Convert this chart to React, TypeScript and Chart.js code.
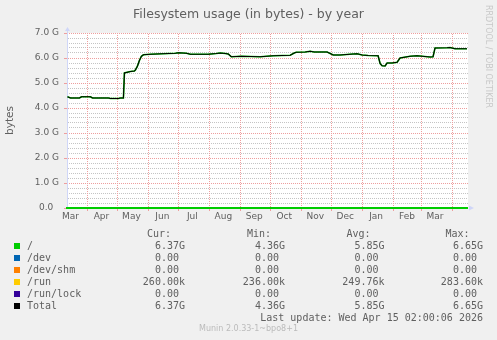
import React, { useEffect, useRef } from "react";
import { Chart, registerables } from "chart.js";

Chart.register(...registerables);

// ---------------- data ----------------
const chartTitle = "Filesystem usage (in bytes) - by year";
const yAxisTitle = "bytes";
const sideText = "RRDTOOL / TOBI OETIKER";
const footerText = "Munin 2.0.33-1~bpo8+1";
const lastUpdateText = "Last update: Wed Apr 15 02:00:06 2026";

// x axis: days since 1 Mar 2025
const monthStartDays = [0, 31, 61, 92, 122, 153, 184, 214, 245, 275, 306, 337, 365, 396];
const monthLabels = ["Mar", "Apr", "May", "Jun", "Jul", "Aug", "Sep", "Oct", "Nov", "Dec", "Jan", "Feb", "Mar"];
const xStartDay = 10.5;
const xEndDay = 412;

// y axis (in G bytes)
const yMajorTicks = [0, 1, 2, 3, 4, 5, 6, 7];
const yTickLabels = ["0.0  ", "1.0 G", "2.0 G", "3.0 G", "4.0 G", "5.0 G", "6.0 G", "7.0 G"];
const yMinorPerMajor = 5;

// "/" filesystem usage (G bytes)
const rootDays = [
  11, 14, 23, 25, 34, 36, 52, 54, 62, 64,
  67, 68, 74, 78, 79, 81, 83, 85, 87, 94,
  106, 119, 122, 130, 134, 152, 160, 164, 169, 172,
  175, 185, 204, 217, 226, 234, 238, 240, 249, 254,
  258, 271, 277, 284, 297, 301, 306, 312, 322, 324,
  326, 329, 331, 336, 341, 344, 354, 361, 374, 377,
  379, 391, 394, 399, 411,
];
const rootValues = [
  4.45, 4.40, 4.40, 4.45, 4.45, 4.40, 4.40, 4.38, 4.38, 4.40,
  4.40, 5.40, 5.46, 5.48, 5.52, 5.67, 5.90, 6.07, 6.13, 6.15,
  6.17, 6.19, 6.21, 6.19, 6.15, 6.15, 6.18, 6.20, 6.18, 6.16,
  6.05, 6.07, 6.05, 6.09, 6.10, 6.11, 6.20, 6.23, 6.24, 6.27,
  6.24, 6.24, 6.12, 6.12, 6.16, 6.17, 6.12, 6.10, 6.09, 5.78,
  5.69, 5.68, 5.80, 5.80, 5.83, 6.00, 6.07, 6.09, 6.04, 6.05,
  6.40, 6.41, 6.42, 6.37, 6.37,
];
const flatDays = [11, 411];
const devValues = [0, 0];
const devShmValues = [0, 0];
const runValues = [0.00026, 0.00026];
const runLockValues = [0, 0];

// legend table
const legendNames = ["/", "/dev", "/dev/shm", "/run", "/run/lock", "Total"];
const legendColors = ["#00CC00", "#0066B3", "#FF8000", "#FFCC00", "#330099", "#000000"];
const legendHeaders = ["Cur:", "Min:", "Avg:", "Max:"];
const curValues = ["6.37G", "0.00 ", "0.00 ", "260.00k", "0.00 ", "6.37G"];
const minValues = ["4.36G", "0.00 ", "0.00 ", "236.00k", "0.00 ", "4.36G"];
const avgValues = ["5.85G", "0.00 ", "0.00 ", "249.76k", "0.00 ", "5.85G"];
const maxValues = ["6.65G", "0.00 ", "0.00 ", "283.60k", "0.00 ", "6.65G"];

// ---------------- styling ----------------
const W = 497;
const H = 340;
const FONT = "#606060";
const MGRID = "#EE9E9E";
const GRID = "#C4C4C4";
const AXIS = "#CFD6F8";
const SANS = '"DejaVu Sans", sans-serif';
const MONO = '"DejaVu Sans Mono", monospace';

const labelDays = monthStartDays.slice(0, monthLabels.length).map((d) => d + 14);

const yTickValues: number[] = [];
yMajorTicks.forEach((m, i) => {
  yTickValues.push(m);
  if (i < yMajorTicks.length - 1) {
    for (let k = 1; k < yMinorPerMajor; k++) {
      yTickValues.push(Math.round((m + k / yMinorPerMajor) * 1000) / 1000);
    }
  }
});

const pts = (days: number[], vals: number[]) => days.map((d, i) => ({ x: d, y: vals[i] }));
const totalValues = rootValues.map(
  (v) => v + devValues[0] + devShmValues[0] + runValues[0] + runLockValues[0]
);

// dotted line look: a 2x2 checkerboard pattern used as stroke colour
function dotPattern(ctx: CanvasRenderingContext2D, color: string) {
  const c = document.createElement("canvas");
  c.width = 2;
  c.height = 2;
  const g = c.getContext("2d")!;
  g.fillStyle = color;
  g.fillRect(0, 0, 1, 1);
  g.fillRect(1, 1, 1, 1);
  return ctx.createPattern(c, "repeat");
}

const decor = {
  id: "decor",
  beforeDraw(chart: any) {
    const { ctx, chartArea } = chart;
    const { left, top, right, bottom } = chartArea;
    ctx.save();
    ctx.fillStyle = "#FFFFFF";
    ctx.fillRect(left, top, right - left, bottom - top);
    ctx.restore();
  },
  afterDraw(chart: any) {
    const { ctx, chartArea } = chart;
    const { left, top, right, bottom } = chartArea;
    ctx.save();
    ctx.fillStyle = AXIS;
    ctx.strokeStyle = AXIS;
    ctx.lineWidth = 1;
    ctx.beginPath();
    ctx.moveTo(left + 0.5, top);
    ctx.lineTo(left + 0.5, top - 2);
    ctx.stroke();
    ctx.beginPath();
    ctx.moveTo(left + 0.5, top - 6);
    ctx.lineTo(left + 3, top - 2);
    ctx.lineTo(left - 2, top - 2);
    ctx.closePath();
    ctx.fill();
    ctx.beginPath();
    ctx.moveTo(right + 6, bottom);
    ctx.lineTo(right + 1, bottom - 2.5);
    ctx.lineTo(right + 1, bottom + 2.5);
    ctx.closePath();
    ctx.fill();
    ctx.restore();
  },
};

const lineDs = (label: string, data: any[], color: string, width: number, order: number) => ({
  label,
  data,
  borderColor: color,
  backgroundColor: color,
  borderWidth: width,
  pointRadius: 0,
  tension: 0,
  fill: false,
  order,
});

export default function App() {
  const ref = useRef<HTMLCanvasElement>(null);

  useEffect(() => {
    const canvas = ref.current;
    if (!canvas) return;
    const c2d = canvas.getContext("2d")!;
    const mgridPat = dotPattern(c2d, MGRID);
    const gridPat = dotPattern(c2d, GRID);
    const transparent = "rgba(0,0,0,0)";
    const chart = new Chart(canvas, {
      type: "line",
      data: {
        datasets: [
          lineDs(legendNames[0], pts(rootDays, rootValues), legendColors[0], 1.6, 1),
          lineDs(legendNames[1], pts(flatDays, devValues), legendColors[1], 1, 5),
          lineDs(legendNames[2], pts(flatDays, devShmValues), legendColors[2], 1, 4),
          lineDs(legendNames[3], pts(flatDays, runValues), legendColors[3], 1, 3),
          lineDs(legendNames[4], pts(flatDays, runLockValues), legendColors[4], 1, 2),
          lineDs(legendNames[5], pts(rootDays, totalValues), legendColors[5], 1.1, 0),
        ],
      },
      options: {
        responsive: false,
        animation: false,
        events: [],
        layout: { padding: { top: 33, right: 29, left: 0, bottom: 0 } },
        plugins: {
          legend: { display: false },
          tooltip: { enabled: false },
          title: { display: false },
        },
        scales: {
          x: {
            type: "linear",
            min: xStartDay,
            max: xEndDay,
            afterFit: (s: any) => {
              s.height = H - 208;
            },
            afterBuildTicks: (s: any) => {
              const vals = [
                ...monthStartDays.filter((d) => d >= xStartDay && d <= xEndDay),
                ...labelDays,
              ].sort((a, b) => a - b);
              s.ticks = vals.map((v) => ({ value: v }));
            },
            ticks: {
              autoSkip: false,
              maxRotation: 0,
              minRotation: 0,
              padding: 0,
              color: FONT,
              font: { family: SANS, size: 9 },
              callback: (v: any) => {
                const i = labelDays.indexOf(v);
                return i >= 0 ? monthLabels[i] : "";
              },
            },
            grid: {
              color: (c: any) =>
                c.tick && monthStartDays.includes(c.tick.value) ? mgridPat : transparent,
              lineWidth: (c: any) => (c.tick && monthStartDays.includes(c.tick.value) ? 1 : 0),
              tickColor: (c: any) =>
                c.tick && monthStartDays.includes(c.tick.value) ? MGRID : transparent,
              tickLength: 3,
              drawTicks: true,
              z: -1,
            },
            border: { display: true, color: legendColors[0], width: 2, z: 1 },
          },
          y: {
            type: "linear",
            min: 0,
            max: 7,
            afterFit: (s: any) => {
              s.width = 67;
            },
            afterBuildTicks: (s: any) => {
              s.ticks = yTickValues.map((v) => ({ value: v }));
            },
            ticks: {
              autoSkip: false,
              padding: 5,
              color: FONT,
              font: { family: SANS, size: 9 },
              callback: (v: any) => {
                const i = yMajorTicks.indexOf(v);
                return i >= 0 ? yTickLabels[i] : "";
              },
            },
            grid: {
              color: (c: any) => (c.tick && yMajorTicks.includes(c.tick.value) ? mgridPat : gridPat),
              tickColor: (c: any) =>
                c.tick && yMajorTicks.includes(c.tick.value) ? MGRID : transparent,
              tickLength: 3,
              lineWidth: 1,
              drawTicks: true,
              z: -2,
            },
            border: { display: true, color: AXIS, width: 1 },
            title: {
              display: true,
              text: yAxisTitle,
              color: FONT,
              font: { family: SANS, size: 10.5 },
              padding: { top: 4, bottom: 0 },
            },
          },
        },
      },
      plugins: [decor],
    } as any);
    return () => chart.destroy();
  }, []);

  const valueCols = [curValues, minValues, avgValues, maxValues];
  const valueRight = [185, 285, 384.5, 483];
  const headerRight = [171, 271, 370.5, 469.5];
  const rowCenter0 = 245.5;
  const rowStep = 12;
  const mono: React.CSSProperties = {
    position: "absolute",
    fontFamily: MONO,
    fontSize: 10,
    lineHeight: "12px",
    color: FONT,
    whiteSpace: "pre",
  };

  return (
    <div
      style={{
        position: "fixed",
        left: 0,
        top: 0,
        width: W,
        height: H,
        background: "#F0F0F0",
        overflow: "hidden",
      }}
    >
      <canvas
        ref={ref}
        width={W}
        height={H}
        style={{ position: "absolute", left: 0, top: 0, width: W, height: H }}
      />
      <div
        style={{
          position: "absolute",
          left: 0,
          top: 6,
          width: W,
          textAlign: "center",
          fontFamily: SANS,
          fontSize: 12.5,
          lineHeight: "15px",
          color: FONT,
          whiteSpace: "pre",
        }}
      >
        {chartTitle}
      </div>
      <div
        style={{
          position: "absolute",
          left: 483,
          top: 5,
          writingMode: "vertical-rl",
          fontFamily: SANS,
          fontSize: 8,
          lineHeight: "10px",
          color: "#C8C8C8",
          whiteSpace: "pre",
        }}
      >
        {sideText}
      </div>
      {legendHeaders.map((h, j) => (
        <div key={"h" + j} style={{ ...mono, right: W - headerRight[j], top: rowCenter0 - rowStep - 6 }}>
          {h}
        </div>
      ))}
      {legendNames.map((name, i) => {
        const cy = rowCenter0 + i * rowStep;
        return (
          <React.Fragment key={name}>
            <div
              style={{
                position: "absolute",
                left: 14,
                top: cy - 3,
                width: 6,
                height: 6,
                background: legendColors[i],
              }}
            />
            <div style={{ ...mono, left: 27, top: cy - 6 }}>{name}</div>
            {valueCols.map((col, j) => (
              <div key={j} style={{ ...mono, right: W - valueRight[j], top: cy - 6 }}>
                {col[i]}
              </div>
            ))}
          </React.Fragment>
        );
      })}
      <div style={{ ...mono, right: W - 483, top: rowCenter0 + 6 * rowStep - 6 }}>{lastUpdateText}</div>
      <div
        style={{
          position: "absolute",
          left: 0,
          top: 324,
          width: W,
          textAlign: "center",
          fontFamily: SANS,
          fontSize: 8,
          lineHeight: "10px",
          color: "#BBBBBB",
          whiteSpace: "pre",
        }}
      >
        {footerText}
      </div>
    </div>
  );
}
